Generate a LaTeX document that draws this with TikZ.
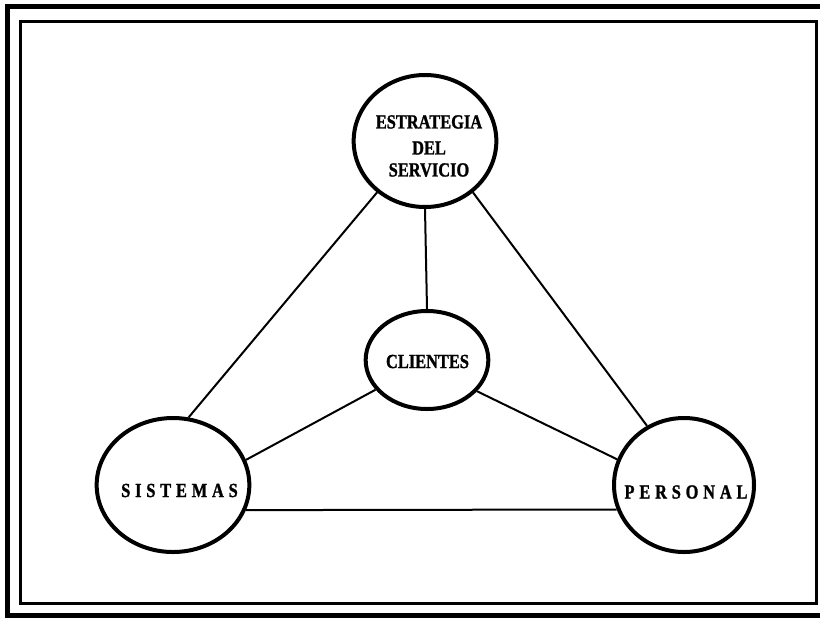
\documentclass[tikz,border=0pt]{standalone}
\usepackage{fontspec}
\usetikzlibrary{shapes.geometric}
\newfontfamily\lblfont{Liberation Serif}[FakeStretch=0.82,FakeBold=1.2]
\newcommand{\lsp}{\kern 3.6pt}
\begin{document}
\begin{tikzpicture}[x=0.75pt,y=-0.75pt,
  ring/.style={draw,ellipse,line width=3pt,inner sep=0pt},
  lbl/.style={font=\lblfont\bfseries\fontsize{15}{16.5}\selectfont,inner sep=0pt,align=center},
  link/.style={line width=1.5pt}]
  \useasboundingbox (0,0) rectangle (820,618);
  \begin{scope}
    \clip (0,0) rectangle (820,618);
    % double frame
    \draw[line width=3.75pt] (7,6.5) rectangle (840,615.5);
    \draw[line width=2.25pt] (20.5,21) rectangle (816,603.5);
  \end{scope}

  % circles (sizes in pt)
  \node[ring,minimum width=107pt,minimum height=99pt] (est) at (425,141) {};
  \node[ring,minimum width=92pt,minimum height=73.5pt] (cli) at (427,360) {};
  \node[ring,minimum width=114.5pt,minimum height=100.5pt] (sis) at (173,485) {};
  \node[ring,minimum width=105pt,minimum height=100.5pt] (per) at (684,485) {};

  % labels
  \node[lbl] (testr) at (429,146) {ESTRATEGIA\\[3pt]DEL\\SERVICIO};
  \node[lbl] (tcli) at (427.5,361.5) {CLIENTES};
  \node[lbl] (tsis) at (179.5,490.5) {S\lsp I\lsp S\lsp T\lsp E\lsp M\lsp A\lsp S};
  \node[lbl] (tper) at (686,492) {P\lsp E\lsp R\lsp S\lsp O\lsp N\lsp A\lsp L};

  % connectors
  \draw[link] (est.south) -- (cli.north);
  \draw[link] (est.227) -- (sis.77);
  \draw[link] (est.313) -- (per.122);
  \draw[link] (cli.210) -- (sis.19);
  \draw[link] (cli.328) -- (per.159);
  \draw[link] (sis.-19) -- (per.200);
\end{tikzpicture}
\end{document}
